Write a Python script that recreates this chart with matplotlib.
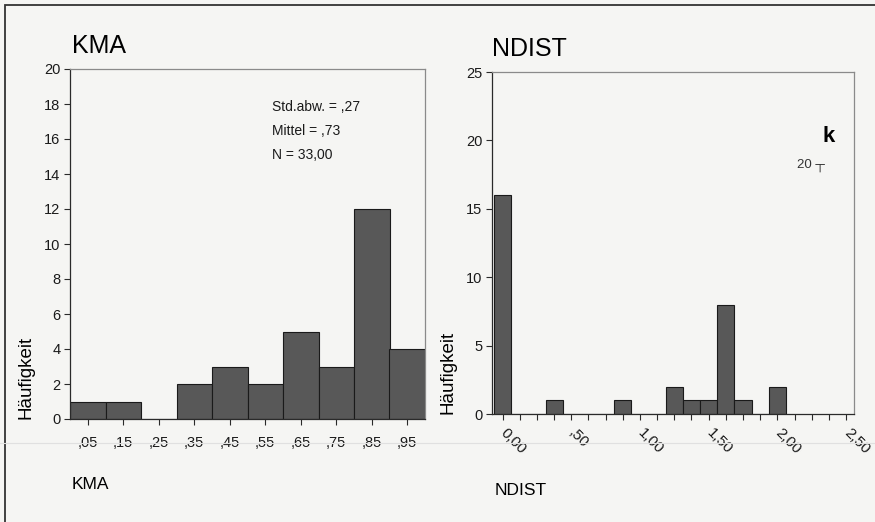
import matplotlib
matplotlib.use("Agg")
import matplotlib.pyplot as plt
from matplotlib.patches import Rectangle

plt.rcParams['font.family'] = ['Liberation Sans', 'DejaVu Sans']

# KMA histogram (bin width 0.1)
kma_centers = [0.05, 0.15, 0.25, 0.35, 0.45, 0.55, 0.65, 0.75, 0.85, 0.95]
kma_counts = [1, 1, 0, 2, 3, 2, 5, 3, 12, 4]
kma_ticklabels = [',05', ',15', ',25', ',35', ',45', ',55', ',65', ',75', ',85', ',95']
kma_stats = ['Std.abw. = ,27', 'Mittel = ,73', 'N = 33,00']

# NDIST histogram (bin width 0.125)
ndist_centers = [0.0, 0.125, 0.25, 0.375, 0.5, 0.625, 0.75, 0.875, 1.0,
                 1.125, 1.25, 1.375, 1.5, 1.625, 1.75, 1.875, 2.0]
ndist_counts = [16, 0, 0, 1, 0, 0, 0, 1, 0, 0, 2, 1, 1, 8, 1, 0, 2]
ndist_major = [0.0, 0.5, 1.0, 1.5, 2.0, 2.5]
ndist_ticklabels = ['0,00', ',50', '1,00', '1,50', '2,00', '2,50']
ndist_minor = [i * 0.125 for i in range(21)]

W, H = 875, 522
bg = '#f5f5f3'
bar_col = '#585858'
fig = plt.figure(figsize=(W / 100, H / 100), dpi=100, facecolor=bg)


def fx(px):
    return px / W


def fy(py):
    return 1 - py / H


def style_axes(ax):
    ax.set_facecolor(bg)
    for s in ['left', 'bottom']:
        ax.spines[s].set_color('#2a2a2a')
        ax.spines[s].set_linewidth(0.9)
    for s in ['top', 'right']:
        ax.spines[s].set_color('#8a8a8a')
        ax.spines[s].set_linewidth(0.9)
    ax.tick_params(which='both', direction='out', length=4, width=0.8,
                   colors='#2a2a2a', labelsize=10.5, pad=3)
    ax.tick_params(labelcolor='#1a1a1a')


# left panel
ax1 = fig.add_axes([fx(70), fy(419), fx(425 - 70), (419 - 69) / H])
style_axes(ax1)
ax1.bar(kma_centers, kma_counts, width=0.1, color=bar_col, edgecolor='#1a1a1a', linewidth=0.8)
ax1.set_xlim(0, 1.0)
ax1.set_ylim(0, 20)
ax1.set_yticks(range(0, 21, 2))
ax1.set_xticks(kma_centers)
ax1.set_xticklabels(kma_ticklabels)
ax1.tick_params(axis='x', labelsize=10.5, pad=8)
for i, s in enumerate(kma_stats):
    fig.text(fx(272), fy(107 + 24 * i), s, fontsize=10, va='center', ha='left', color='#1a1a1a')

# right panel
ax2 = fig.add_axes([fx(492), fy(414), fx(854 - 492), (414 - 72) / H])
style_axes(ax2)
ax2.bar(ndist_centers, ndist_counts, width=0.125, color=bar_col, edgecolor='#1a1a1a', linewidth=0.8)
ax2.set_xlim(-0.077, 2.558)
ax2.set_ylim(0, 25)
ax2.set_yticks(range(0, 26, 5))
ax2.set_xticks(ndist_major)
ax2.set_xticks(ndist_minor, minor=True)
ax2.set_xticklabels(ndist_ticklabels, rotation=-45, ha='left', va='center',
                    rotation_mode='anchor', fontsize=11)
ax2.tick_params(axis='x', pad=8)

# titles and axis labels
fig.text(fx(72), fy(53), 'KMA', fontsize=18, va='baseline', ha='left')
fig.text(fx(492), fy(56), 'NDIST', fontsize=18, va='baseline', ha='left')
fig.text(fx(72), fy(489), 'KMA', fontsize=12.5, va='baseline', ha='left')
fig.text(fx(495), fy(495), 'NDIST', fontsize=12.5, va='baseline', ha='left')
fig.text(fx(26), fy(419), 'Häufigkeit', fontsize=13.5, rotation=90, ha='center', va='bottom')
fig.text(fx(448), fy(414), 'Häufigkeit', fontsize=13.5, rotation=90, ha='center', va='bottom')

# stray print from the scanned page
fig.text(fx(822), fy(136), 'k', fontsize=16, fontweight='bold', va='center', ha='left')
fig.text(fx(797), fy(165), '20 ┬', fontsize=9.5, va='center', ha='left', color='#333333')

# outer frame of the scanned figure
fig.add_artist(Rectangle((fx(5), -0.1), 1.2, fy(5) + 0.1, transform=fig.transFigure,
                         fill=False, edgecolor='#333333', linewidth=1.3))
fig.add_artist(plt.Line2D([0, 1], [fy(443), fy(443)], transform=fig.transFigure,
                          color='#e0e0e0', linewidth=0.8))

fig.savefig('out.png', dpi=100, facecolor=bg)
